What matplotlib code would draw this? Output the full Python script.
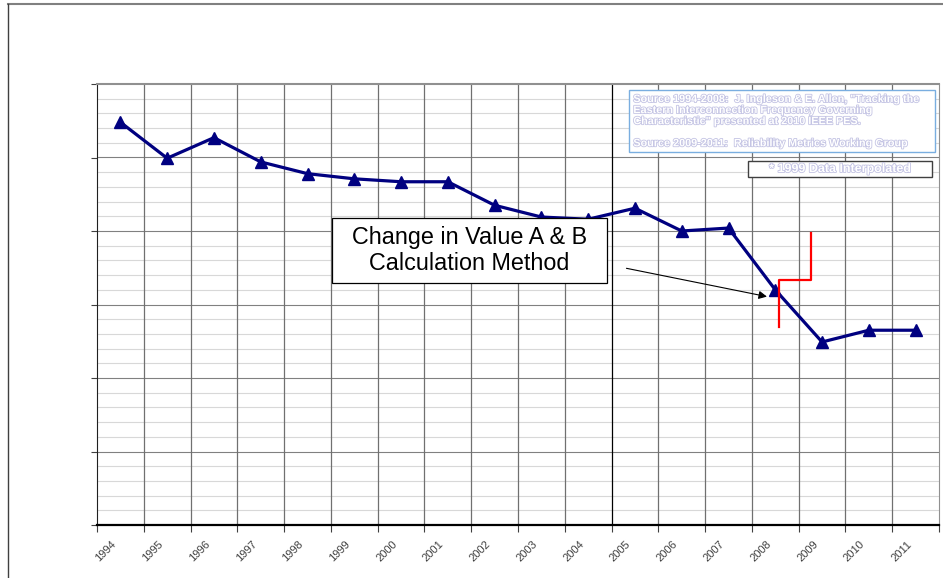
import numpy as np
import matplotlib.pyplot as plt
from matplotlib import patches, lines
import matplotlib.patheffects as pe

plt.rcParams['font.family'] = ['Liberation Sans', 'DejaVu Sans']

years = [1994, 1995, 1996, 1997, 1998, 1999, 2000, 2001, 2002,
         2003, 2004, 2005, 2006, 2007, 2008, 2009, 2010, 2011]
values = [5.48, 4.99, 5.27, 4.94, 4.78, 4.71, 4.67, 4.67, 4.35,
          4.19, 4.16, 4.31, 4.00, 4.04, 3.20, 2.49, 2.65, 2.65]

# red step marking the method change (data coords)
step_x = [14.07, 14.07, 14.76, 14.76]
step_y = [2.69, 3.33, 3.33, 3.97]

source_text = ("Source 1994-2008:  J. Ingleson & E. Allen, \"Tracking the\n"
               "Eastern Interconnection Frequency Governing\n"
               "Characteristic\" presented at 2010 IEEE PES.\n"
               "\n"
               "Source 2009-2011:  Reliability Metrics Working Group")
note_text = "* 1999 Data Interpolated"
change_text = "Change in Value A & B\nCalculation Method"

fig = plt.figure(figsize=(9.43, 5.78), dpi=100)
ax = fig.add_axes([97/943, 1-525/578, 842/943, 441/578])

x = np.arange(len(years))
ax.set_xlim(-0.5, len(years)-0.5)
ax.set_ylim(0, 6)

# grid
for yy in np.arange(0.2, 6.0, 0.2):
    major = abs(yy - round(yy)) < 1e-6
    ax.axhline(yy, color="#808080" if major else "#d8d8d8",
               linewidth=0.8, zorder=0)
for i in range(1, len(years)):
    ax.axvline(i-0.5, color="black" if years[i] == 2005 else "#707070",
               linewidth=0.9, zorder=0)

ax.plot(x, values, color="#000080", linewidth=2.3, marker="^",
        markersize=9, zorder=3, clip_on=False)

ax.plot(step_x, step_y, color="#ff0000", linewidth=1.6, zorder=4)

ax.annotate("", xy=(13.88, 3.10), xytext=(10.76, 3.50),
            arrowprops=dict(arrowstyle="-|>", color="black", lw=0.8,
                            mutation_scale=12), zorder=5)

# change box
ax.add_patch(patches.Rectangle((0.279, 0.549), 0.606-0.279, 0.696-0.549,
                               transform=ax.transAxes, facecolor="white",
                               edgecolor="black", linewidth=0.9, zorder=6))
ax.text(0.4425, 0.622, change_text, transform=ax.transAxes, ha="center",
        va="center", fontsize=16.8, linespacing=1.2, zorder=7)

# source box
ax.add_patch(patches.Rectangle((0.632, 0.846), 0.995-0.632, 0.986-0.846,
                               transform=ax.transAxes, facecolor="white",
                               edgecolor="#7aaee0", linewidth=1.0, zorder=6))
ax.text(0.637, 0.977, source_text, transform=ax.transAxes, ha="left",
        va="top", fontsize=7.8, fontweight="bold", color="white",
        linespacing=1.13, zorder=7,
        path_effects=[pe.withStroke(linewidth=1.2, foreground="#c4c4e4")])

ax.add_patch(patches.Rectangle((0.773, 0.789), 0.992-0.773, 0.825-0.789,
                               transform=ax.transAxes, facecolor="white",
                               edgecolor="#404040", linewidth=1.0, zorder=6))
ax.text(0.8825, 0.807, note_text, transform=ax.transAxes, ha="center",
        va="center", fontsize=9, fontweight="bold", color="white", zorder=7,
        path_effects=[pe.withStroke(linewidth=1.2, foreground="#c4c4e4")])

# axes ticks
ax.set_xticks(np.arange(-0.5, len(years)))
ax.set_xticklabels([])
ax.tick_params(axis="x", direction="out", length=5, width=0.8, color="#404040")
ax.set_yticks(np.arange(0, 7, 1))
ax.set_yticklabels([])
ax.tick_params(axis="y", direction="out", length=4, width=0.8, color="#404040")
for i, yr in enumerate(years):
    ax.text(i-0.2, -0.19, str(yr), rotation=45, rotation_mode="anchor",
            ha="right", va="top", fontsize=8, color="#404040")

ax.spines["bottom"].set_linewidth(1.6)
ax.spines["bottom"].set_color("black")
ax.spines["left"].set_color("#202020")
ax.spines["top"].set_color("#909090")
ax.spines["top"].set_linewidth(1.5)
ax.spines["right"].set_color("#909090")

# outer frame
fig.add_artist(lines.Line2D([8/943, 1.0], [1-4/578, 1-4/578],
                            color="#808080", linewidth=1.5))
fig.add_artist(lines.Line2D([8/943, 8/943], [0, 1-4/578],
                            color="#404040", linewidth=1.0))

fig.savefig("out.png", dpi=100)
